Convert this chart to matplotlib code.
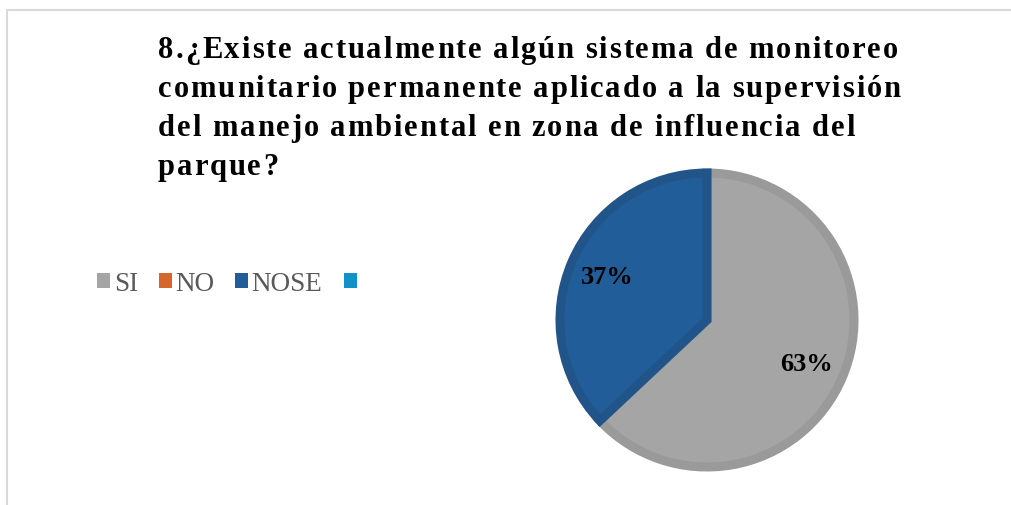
import matplotlib.pyplot as plt
from matplotlib.font_manager import FontProperties
from matplotlib.lines import Line2D
from matplotlib.patches import Patch

# Survey answers, question 8
categories = ["SI", "NO", "NOSE", ""]
shares = [63, 0, 37, 0]
fill_colors = ["#A5A5A5", "#D6672C", "#215E99", "#1191C7"]
edge_colors = ["#9A9A9A", "#C45E28", "#21558A", "#0F82B4"]

title_lines = [
    "8.¿Existe actualmente algún sistema de monitoreo",
    "comunitario permanente aplicado a la supervisión",
    "del manejo ambiental en zona de influencia del",
    "parque?",
]

W, H = 1011, 506
fig = plt.figure(figsize=(W / 100, H / 100), dpi=100)
fig.patch.set_facecolor("white")
renderer = fig.canvas.get_renderer()

# light frame (top and left edges visible)
fig.add_artist(Line2D([7 / W, 7 / W, 1.0], [0.0, 1 - 11 / H, 1 - 11 / H],
                      transform=fig.transFigure, color="#D9D9D9", lw=1.5))


def spaced_text(x_px, y_px, s, prop, tracking):
    """Write s from pixel (x, baseline y) with extra space after each character."""
    x = x_px
    for ch in s:
        fig.text(x / W, 1 - y_px / H, ch, ha="left", va="baseline",
                 fontproperties=prop, color="black")
        w, _, _ = renderer.get_text_width_height_descent(ch, prop, ismath=False)
        x += w + tracking


title_prop = FontProperties(family="Liberation Serif", weight="bold", size=22)
for i, line in enumerate(title_lines):
    spaced_text(158, 58 + 39 * i, line, title_prop, 1.9)

# pie: centre (707, 321) px, visible radius ~152 px
cx, cy, r = 707, 321, 147
lim = 1.07
size = 2 * r * lim
ax = fig.add_axes([(cx - size / 2) / W, (H - cy - size / 2) / H, size / W, size / H])


def label(pct):
    return f"{pct:.0f}%" if pct > 0.5 else ""


wedges, texts, autotexts = ax.pie(
    shares, colors=fill_colors, startangle=90, counterclock=False,
    autopct=label, pctdistance=0.74, radius=1,
    wedgeprops=dict(linewidth=6.5, joinstyle="miter"),
    textprops=dict(family="Liberation Serif", fontweight="bold", fontsize=19, color="black"))
for w, ec, v in zip(wedges, edge_colors, shares):
    w.set_edgecolor(ec)
    if v == 0:
        w.set_visible(False)
ax.set_xlim(-lim, lim)
ax.set_ylim(-lim, lim)
ax.set_aspect("equal")
ax.axis("off")

handles = [Patch(facecolor=c, edgecolor="none") for c in fill_colors]
fig.legend(handles, categories, loc="center left", bbox_to_anchor=(73 / W, 1 - 285 / H),
           ncol=4, frameon=False, handlelength=0.48, handleheight=0.48,
           handletextpad=0.12, columnspacing=0.78,
           prop=dict(family="Liberation Serif", size=19.5), labelcolor="#595959")

fig.savefig("out.png", dpi=100)
